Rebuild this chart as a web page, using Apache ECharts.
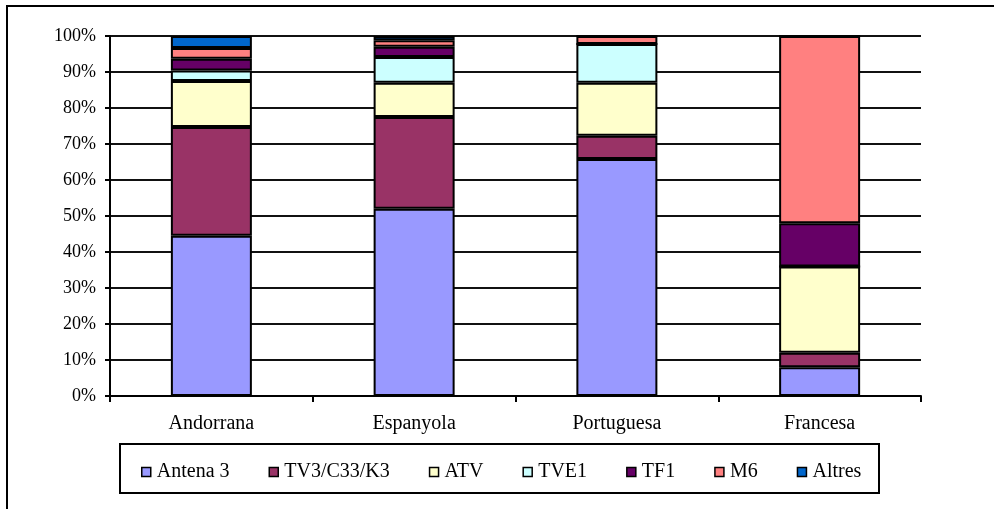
<!DOCTYPE html>
<html>
<head>
<meta charset="utf-8">
<script src="https://cdn.jsdelivr.net/npm/echarts@6/dist/echarts.min.js"></script>
<style>html,body{margin:0;padding:0;background:#fff}#c{width:994px;height:509px}</style>
</head>
<body>
<div id="c"></div>
<script>
const categories = ['Andorrana', 'Espanyola', 'Portuguesa', 'Francesa'];
const seriesNames = ['Antena 3', 'TV3/C33/K3', 'ATV', 'TVE1', 'TF1', 'M6', 'Altres'];
const antena3 = [44.5, 52.0, 65.8, 8.0];
const tv3 = [30.2, 25.5, 6.5, 4.0];
const atv = [12.8, 9.5, 14.7, 24.0];
const tve1 = [2.9, 7.2, 10.8, 0];
const tf1 = [3.3, 2.8, 0, 12.0];
const m6 = [3.0, 1.8, 2.2, 52.0];
const altres = [3.3, 1.2, 0, 0];
const yTicks = [0, 10, 20, 30, 40, 50, 60, 70, 80, 90, 100];

const colors = ['#9999FF', '#993366', '#FFFFCC', '#CCFFFF', '#660066', '#FF8080', '#0066CC'];
const values = [antena3, tv3, atv, tve1, tf1, m6, altres];
const FONT = 'Liberation Serif';

const chart = echarts.init(document.getElementById('c'));
chart.setOption({
  animation: false,
  backgroundColor: '#fff',
  textStyle: { fontFamily: FONT, color: '#000' },
  graphic: [
    { type: 'rect', shape: { x: 7, y: 6, width: 1000, height: 520 }, style: { fill: 'none', stroke: '#000', lineWidth: 2 }, z: 0 },
    { type: 'rect', shape: { x: 120, y: 444, width: 759, height: 49 }, style: { fill: 'none', stroke: '#000', lineWidth: 2 }, z: 0 }
  ],
  grid: { left: 110, right: 73, top: 36, bottom: 113 },
  legend: {
    data: seriesNames,
    left: 136,
    top: 457,
    itemWidth: 9,
    itemHeight: 9,
    itemGap: 39,
    icon: 'rect',
    textStyle: { fontFamily: FONT, fontSize: 20, color: '#000', padding: [0, 0, 0, 1] },
    itemStyle: { borderColor: '#000', borderWidth: 1.5 }
  },
  xAxis: {
    type: 'category',
    data: categories,
    axisLine: { lineStyle: { color: '#000', width: 2 } },
    axisTick: { show: true, length: 6, lineStyle: { color: '#000', width: 2 } },
    axisLabel: { fontFamily: FONT, fontSize: 20, color: '#000', margin: 18 }
  },
  yAxis: {
    type: 'value',
    min: yTicks[0],
    max: yTicks[yTicks.length - 1],
    interval: 10,
    axisLine: { show: true, lineStyle: { color: '#000', width: 2 } },
    axisTick: { show: true, length: 5, lineStyle: { color: '#000', width: 2 } },
    axisLabel: { fontFamily: FONT, fontSize: 18, color: '#000', margin: 14, formatter: '{value}%' },
    splitLine: { show: true, lineStyle: { color: '#111', width: 2 } }
  },
  series: seriesNames.map((name, i) => ({
    name: name,
    type: 'bar',
    stack: 'total',
    barWidth: 81,
    data: values[i],
    itemStyle: { color: colors[i], borderColor: '#000', borderWidth: 2 }
  }))
});
</script>
</body>
</html>
